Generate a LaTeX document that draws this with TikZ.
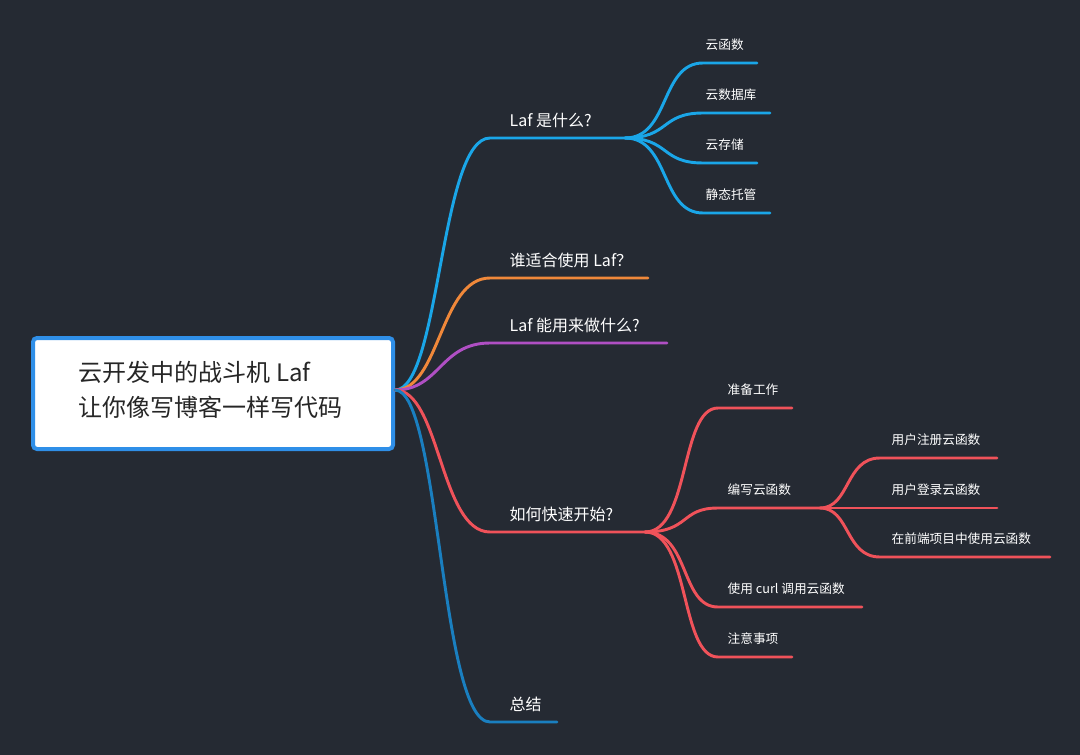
\documentclass[tikz,border=0pt]{standalone}
\usepackage{fontspec}
\setmainfont{Noto Sans CJK SC}
\definecolor{bg}{HTML}{252A33}
\definecolor{cb}{HTML}{1AA6E8}
\definecolor{co}{HTML}{F0883A}
\definecolor{cp}{HTML}{B04FC4}
\definecolor{cr}{HTML}{F0525A}
\definecolor{cd}{HTML}{1A7FC0}
\definecolor{rootb}{HTML}{2F8FE8}
\begin{document}
\begin{tikzpicture}[x=0.75pt,y=-0.75pt,
  br/.style={line width=2.2pt,line cap=round},
  big/.style={text=white,anchor=west,font=\fontsize{12}{14}\selectfont},
  sm/.style={text=white,anchor=west,font=\fontsize{9.5}{12}\selectfont}]
\fill[bg] (0,0) rectangle (1080,755);
\node[draw=rootb,line width=3pt,fill=white,rounded corners=3pt,minimum width=360pt*0.75,minimum height=111pt*0.75,anchor=north west,inner sep=0] (root) at (31,336) {};
\node[anchor=west,align=left,font=\fontsize{18}{26}\selectfont,text=black!85] (rt) at (74,390) {云开发中的战斗机 Laf\\让你像写博客一样写代码};
\coordinate (o) at (395,390);
% main branches
\foreach \y/\x/\c/\n/\t in {138/625/cb/a/{Laf 是什么?},278/648/co/b/{谁适合使用 Laf？},343/667/cp/c/{Laf 能用来做什么?},532/645/cr/d/{如何快速开始?},722/557/cd/e/{总结}}{
  \coordinate (\n s) at (490,\y);
  \coordinate (\n e) at (\x,\y);
  \draw[br,\c] (o) .. controls (440,390) and (440,\y) .. (\n s) -- (\n e);
  \node[big] (\n t) at (505,\y-18) {\t};
}
% blue subs
\foreach \y/\x/\n/\t in {63/757/a1/云函数,113/770/a2/云数据库,163/757/a3/云存储,213/770/a4/静态托管}{
  \coordinate (\n s) at (703,\y);
  \coordinate (\n e) at (\x,\y);
  \draw[br,cb] (ae) .. controls (670,138) and (660,\y) .. (\n s) -- (\n e);
  \node[sm] (\n t) at (701,\y-18) {\t};
}
% red subs
\foreach \y/\x/\n/\t in {408/792/d1/准备工作,508/820/d2/编写云函数,607/862/d3/使用 curl 调用云函数,657/792/d4/注意事项}{
  \coordinate (\n s) at (718,\y);
  \coordinate (\n e) at (\x,\y);
  \draw[br,cr] (de) .. controls (690,532) and (680,\y) .. (\n s) -- (\n e);
  \node[sm] (\n t) at (723,\y-18) {\t};
}
\foreach \y/\x/\n/\t in {458/997/f1/用户注册云函数,508/997/f2/用户登录云函数,557/1050/f3/在前端项目中使用云函数}{
  \coordinate (\n s) at (880,\y);
  \coordinate (\n e) at (\x,\y);
  \draw[br,cr] (d2e) .. controls (850,508) and (845,\y) .. (\n s) -- (\n e);
  \node[sm] (\n t) at (887,\y-18) {\t};
}
\end{tikzpicture}
\end{document}
